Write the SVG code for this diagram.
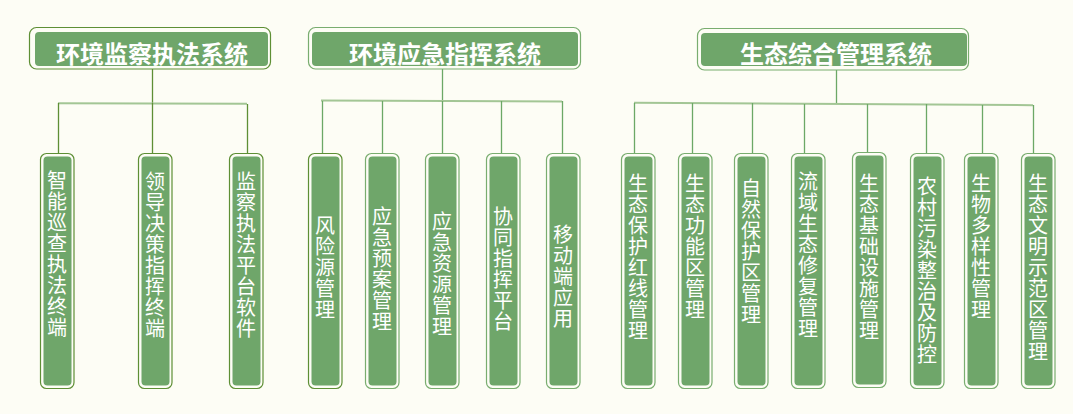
<svg xmlns="http://www.w3.org/2000/svg" width="1073" height="414" viewBox="0 0 1073 414">
<style>
.bg{fill:#fdfdf5}
.out{fill:#fdfdf5;stroke:#79ad6f;stroke-width:1.2}
.outd{fill:#fdfdf5;stroke:#5e8f35;stroke-width:1.2}
.in{fill:#6fa66a}
.hd{font-family:"Noto Sans CJK SC","Noto Sans CJK JP",sans-serif;font-weight:bold;font-size:24px;fill:#ffffff;text-anchor:middle;dominant-baseline:central}
.vt{font-family:"Noto Sans CJK SC","Noto Sans CJK JP",sans-serif;font-size:20px;fill:#ffffff;writing-mode:vertical-rl;letter-spacing:1px}
.ld{stroke:#5e8f35;stroke-width:1.3;fill:none}
.lm{stroke:#6ca866;stroke-width:1.3;fill:none}
.hl{stroke:#a3c695;stroke-width:2;fill:none}
</style>
<rect class="bg" x="0" y="0" width="1073" height="414"/>
<g id="connectors">
  <path class="ld" d="M152.5 69 V103"/>
  <path class="hl" d="M58 103.2 L247 103.8"/>
  <path class="ld" d="M58.5 103 V153 M152.5 103 V153 M247.5 104 V153"/>
  <path class="lm" d="M442.5 69 V101"/>
  <path class="hl" d="M321 100.6 L562 101.4"/>
  <path class="lm" d="M322.5 101 V153 M382.5 101 V153 M442.5 101 V153 M501.5 101 V153 M562.5 101 V153"/>
  <path class="lm" d="M836.5 70 V103"/>
  <path class="hl" d="M634 102.8 L1033 105.2"/>
  <path class="lm" d="M634.5 103 V153 M692.5 103 V153 M752.5 103 V153 M804.5 104 V153 M867.5 104 V152 M926.5 104 V153 M982.5 105 V153 M1033.5 105 V153"/>
</g>
<g id="h1"><rect class="outd" x="29.5" y="27.5" width="241" height="41.5" rx="7"/><rect class="in" x="35" y="32" width="233" height="34" rx="4"/><text class="hd" x="152" y="52">环境监察执法系统</text></g>
<g id="h2"><rect class="out" x="308.5" y="27.5" width="272" height="41.5" rx="7"/><rect class="in" x="312" y="32" width="266" height="34" rx="4"/><text class="hd" x="445" y="52">环境应急指挥系统</text></g>
<g id="h3"><rect class="out" x="697.5" y="28.5" width="271" height="41.5" rx="7"/><rect class="in" x="701" y="33" width="266" height="33" rx="4"/><text class="hd" x="836" y="52">生态综合管理系统</text></g>

<g id="c1"><rect class="outd" x="40.5" y="153.5" width="33.5" height="235" rx="6"/><rect class="in" x="43.5" y="156.5" width="28" height="229" rx="4"/><text class="vt" x="57" y="170">智能巡查执法终端</text></g>
<g id="c2"><rect class="outd" x="138.5" y="153.5" width="33.5" height="235" rx="6"/><rect class="in" x="141.5" y="156.5" width="28" height="229" rx="4"/><text class="vt" x="155" y="171">领导决策指挥终端</text></g>
<g id="c3"><rect class="outd" x="229.5" y="153.5" width="33.5" height="235" rx="6"/><rect class="in" x="232.5" y="156.5" width="28" height="229" rx="4"/><text class="vt" x="246" y="171">监察执法平台软件</text></g>

<g id="c4"><rect class="outd" x="308.5" y="153.5" width="33.5" height="235" rx="6"/><rect class="in" x="311.5" y="156.5" width="28" height="229" rx="4"/><text class="vt" x="325" y="215">风险源管理</text></g>
<g id="c5"><rect class="out" x="365.5" y="153.5" width="33.5" height="235" rx="6"/><rect class="in" x="368.5" y="156.5" width="28" height="229" rx="4"/><text class="vt" x="382" y="206">应急预案管理</text></g>
<g id="c6"><rect class="out" x="425.5" y="153.5" width="33.5" height="235" rx="6"/><rect class="in" x="428.5" y="156.5" width="28" height="229" rx="4"/><text class="vt" x="442" y="211">应急资源管理</text></g>
<g id="c7"><rect class="out" x="486.5" y="153.5" width="33.5" height="235" rx="6"/><rect class="in" x="489.5" y="156.5" width="28" height="229" rx="4"/><text class="vt" x="503" y="206">协同指挥平台</text></g>
<g id="c8"><rect class="out" x="546.5" y="153.5" width="33.5" height="235" rx="6"/><rect class="in" x="549.5" y="156.5" width="28" height="229" rx="4"/><text class="vt" x="563" y="224">移动端应用</text></g>

<g id="c9"><rect class="out" x="621.5" y="153.5" width="33.5" height="235" rx="6"/><rect class="in" x="624.5" y="156.5" width="28" height="229" rx="4"/><text class="vt" x="638" y="173">生态保护红线管理</text></g>
<g id="c10"><rect class="out" x="678.5" y="153.5" width="33.5" height="235" rx="6"/><rect class="in" x="681.5" y="156.5" width="28" height="229" rx="4"/><text class="vt" x="695" y="173">生态功能区管理</text></g>
<g id="c11"><rect class="out" x="734.5" y="153.5" width="33.5" height="235" rx="6"/><rect class="in" x="737.5" y="156.5" width="28" height="229" rx="4"/><text class="vt" x="751" y="178">自然保护区管理</text></g>
<g id="c12"><rect class="out" x="791.5" y="153.5" width="33.5" height="235" rx="6"/><rect class="in" x="794.5" y="156.5" width="28" height="229" rx="4"/><text class="vt" x="808" y="171">流域生态修复管理</text></g>
<g id="c13"><rect class="out" x="852.5" y="152.5" width="33.5" height="235" rx="6"/><rect class="in" x="855.5" y="155.5" width="28" height="229" rx="4"/><text class="vt" x="869" y="173">生态基础设施管理</text></g>
<g id="c14"><rect class="out" x="910.5" y="153.5" width="33.5" height="235" rx="6"/><rect class="in" x="913.5" y="156.5" width="28" height="229" rx="4"/><text class="vt" x="927" y="176">农村污染整治及防控</text></g>
<g id="c15"><rect class="out" x="964.5" y="153.5" width="33.5" height="235" rx="6"/><rect class="in" x="967.5" y="156.5" width="28" height="229" rx="4"/><text class="vt" x="981" y="173">生物多样性管理</text></g>
<g id="c16"><rect class="out" x="1021.5" y="153.5" width="33.5" height="235" rx="6"/><rect class="in" x="1024.5" y="156.5" width="28" height="229" rx="4"/><text class="vt" x="1038" y="173">生态文明示范区管理</text></g>
</svg>
